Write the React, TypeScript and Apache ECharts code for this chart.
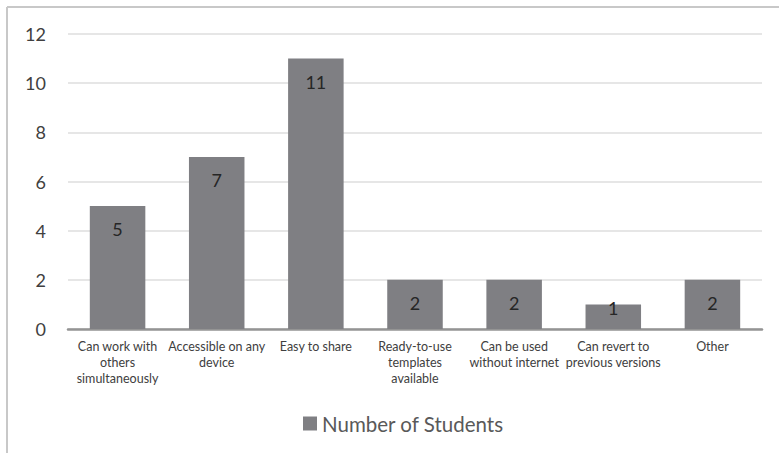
import React, { useEffect, useRef } from "react";
import * as echarts from "echarts";

// Reasons students gave, with the count for each
const categories = [
  "Can work with\nothers\nsimultaneously",
  "Accessible on any\ndevice",
  "Easy to share",
  "Ready-to-use\ntemplates\navailable",
  "Can be used\nwithout internet",
  "Can revert to\nprevious versions",
  "Other",
];
const studentCounts = [5, 7, 11, 2, 2, 1, 2];
const seriesName = "Number of Students";
const yTicks = { min: 0, max: 12, interval: 2 };

const FONT = "Lato, 'Noto Sans', sans-serif";

export default function App() {
  const ref = useRef<HTMLDivElement>(null);

  useEffect(() => {
    if (!ref.current) return;
    const chart = echarts.init(ref.current, null, { renderer: "svg" });

    const data = studentCounts.map((v) =>
      v < 2
        ? { value: v, label: { position: "top", distance: -13 } }
        : { value: v }
    );

    chart.setOption({
      animation: false,
      backgroundColor: "#ffffff",
      textStyle: { fontFamily: FONT },
      grid: { left: 68, right: 17, top: 34, bottom: 124, containLabel: false },
      graphic: [
        {
          type: "line",
          shape: { x1: 7, y1: 7, x2: 779, y2: 7 },
          style: { stroke: "#c8c8c8", lineWidth: 2 },
        },
        {
          type: "line",
          shape: { x1: 7, y1: 7, x2: 7, y2: 453 },
          style: { stroke: "#c8c8c8", lineWidth: 2 },
        },
      ],
      legend: {
        data: [seriesName],
        left: 298,
        top: 408,
        icon: "rect",
        itemWidth: 14,
        itemHeight: 14,
        itemGap: 6,
        textStyle: { fontSize: 20.5, color: "#595959", fontFamily: FONT },
      },
      xAxis: {
        type: "category",
        data: categories,
        axisLine: { lineStyle: { color: "#949494", width: 2.5 } },
        axisTick: { show: false },
        axisLabel: {
          interval: 0,
          fontSize: 12.5,
          lineHeight: 16,
          color: "#404040",
          margin: 9,
          fontFamily: FONT,
        },
      },
      yAxis: {
        type: "value",
        min: yTicks.min,
        max: yTicks.max,
        interval: yTicks.interval,
        axisLine: { show: false },
        axisTick: { show: false },
        splitLine: { lineStyle: { color: "#dedede", width: 1.5 } },
        axisLabel: {
          fontSize: 18,
          color: "#404040",
          margin: 22,
          fontFamily: FONT,
        },
      },
      series: [
        {
          name: seriesName,
          type: "bar",
          data,
          barCategoryGap: "44%",
          itemStyle: { color: "#7f7f83" },
          label: {
            show: true,
            position: "insideTop",
            distance: 14,
            fontSize: 18,
            color: "#262626",
            fontFamily: FONT,
          },
        },
      ],
    });

    return () => chart.dispose();
  }, []);

  return (
    <div
      ref={ref}
      style={{ position: "fixed", left: 0, top: 0, width: 779, height: 453 }}
    />
  );
}
